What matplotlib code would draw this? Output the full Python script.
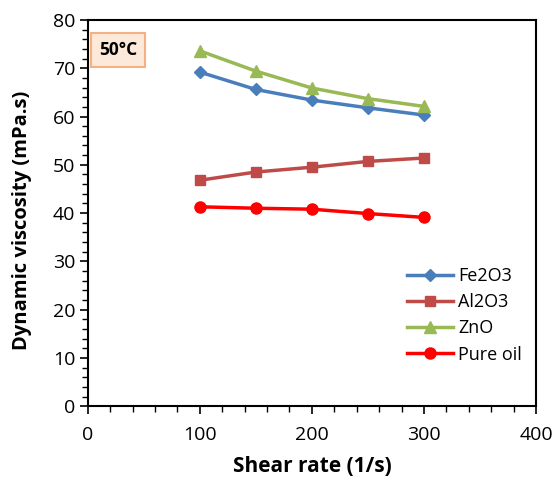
import matplotlib
matplotlib.use("Agg")
import matplotlib.pyplot as plt
from matplotlib.ticker import MultipleLocator

shear = [100, 150, 200, 250, 300]
fe2o3 = [69.2, 65.6, 63.4, 61.8, 60.3]
al2o3 = [46.8, 48.5, 49.5, 50.7, 51.4]
zno = [73.6, 69.4, 65.9, 63.7, 62.1]
pure = [41.3, 41.0, 40.8, 39.9, 39.1]

plt.rcParams['font.family'] = ['Open Sans', 'DejaVu Sans']

fig = plt.figure(figsize=(5.52, 4.87), dpi=100)
ax = fig.add_axes([0.159, 0.166, 0.812, 0.793])

ax.plot(shear, fe2o3, color='#4a7ebb', marker='D', markersize=6, lw=2.5, label='Fe2O3')
ax.plot(shear, al2o3, color='#be4b48', marker='s', markersize=7, lw=2.5, label='Al2O3')
ax.plot(shear, zno, color='#98b954', marker='^', markersize=8, lw=2.5, label='ZnO')
ax.plot(shear, pure, color='#ff0000', marker='o', markersize=8, lw=2.5, label='Pure oil')

ax.set_xlim(0, 400)
ax.set_ylim(0, 80)
ax.xaxis.set_major_locator(MultipleLocator(100))
ax.xaxis.set_minor_locator(MultipleLocator(20))
ax.yaxis.set_major_locator(MultipleLocator(10))
ax.yaxis.set_minor_locator(MultipleLocator(2))
ax.tick_params(which='major', direction='out', length=6, width=1.2, labelsize=14, colors='black')
ax.tick_params(which='minor', direction='out', length=4, width=1.0)
ax.tick_params(axis='x', which='major', pad=8)
ax.tick_params(axis='y', which='major', pad=3)
for s in ax.spines.values():
    s.set_linewidth(1.5)

ax.set_xlabel('Shear rate (1/s)', fontsize=15, fontweight='bold')
ax.set_ylabel('Dynamic viscosity (mPa.s)', fontsize=14.5, fontweight='bold')
ax.xaxis.set_label_coords(0.5, -0.13)
ax.yaxis.set_label_coords(-0.125, 0.48)

ax.text(0.025, 0.922, '50°C', transform=ax.transAxes, fontsize=12.5, fontweight='bold',
        va='center', ha='left',
        bbox=dict(boxstyle='square,pad=0.45', facecolor='#fde9d9', edgecolor='#f4b183', lw=1.5))

leg = ax.legend(loc='upper left', bbox_to_anchor=(0.712, 0.36), frameon=False, fontsize=13,
                handlelength=2.55, handletextpad=0.3, labelspacing=0.45,
                borderaxespad=0, borderpad=0)

fig.savefig('out.png', dpi=100)
